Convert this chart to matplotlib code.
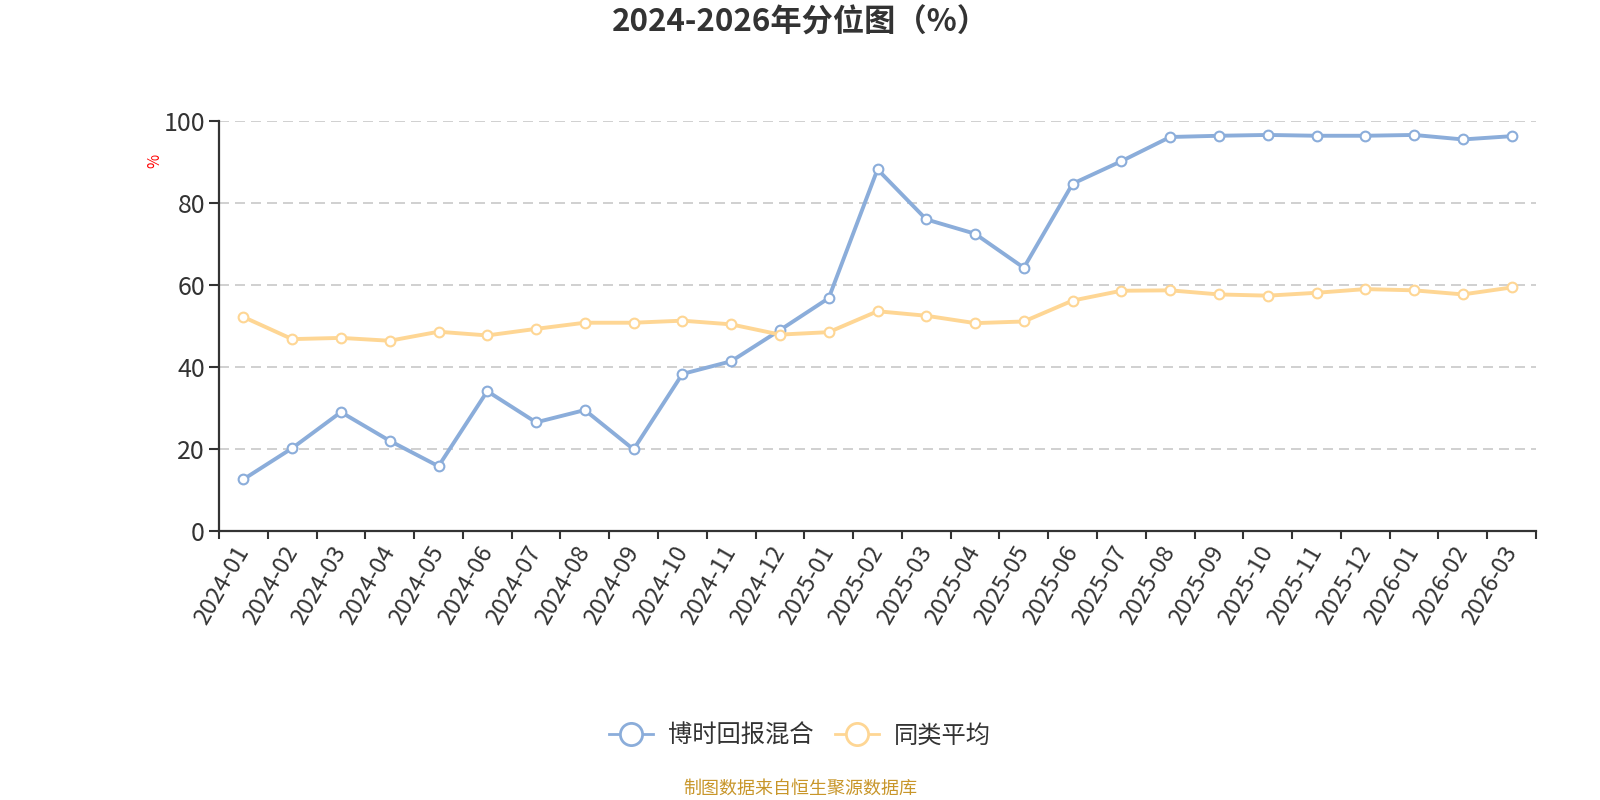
import matplotlib
matplotlib.use("Agg")
import matplotlib.pyplot as plt
from matplotlib.lines import Line2D
import numpy as np

plt.rcParams['font.family'] = ['Noto Sans CJK SC', 'DejaVu Sans']

months = ["2024-01", "2024-02", "2024-03", "2024-04", "2024-05", "2024-06",
          "2024-07", "2024-08", "2024-09", "2024-10", "2024-11", "2024-12",
          "2025-01", "2025-02", "2025-03", "2025-04", "2025-05", "2025-06",
          "2025-07", "2025-08", "2025-09", "2025-10", "2025-11", "2025-12",
          "2026-01", "2026-02", "2026-03"]
fund = [12.6, 20.2, 29.0, 22.0, 15.8, 34.1, 26.5, 29.5, 19.9, 38.3, 41.4, 49.0,
        56.8, 88.2, 76.0, 72.5, 64.2, 84.7, 90.2, 96.1, 96.4, 96.6, 96.4, 96.4,
        96.6, 95.5, 96.3]
peer = [52.2, 46.8, 47.1, 46.4, 48.6, 47.7, 49.3, 50.8, 50.8, 51.3, 50.4, 47.9,
        48.5, 53.6, 52.5, 50.7, 51.1, 56.2, 58.6, 58.7, 57.7, 57.4, 58.1, 59.0,
        58.7, 57.7, 59.4]
series_names = ["博时回报混合", "同类平均"]
yticks = [0, 20, 40, 60, 80, 100]

blue = "#8badda"
orange = "#fed694"
text_c = "#333333"

fig = plt.figure(figsize=(16, 8), dpi=100)
ax = fig.add_axes([219/1600, 1 - 531/800, (1536-219)/1600, (531-121)/800])

x = np.arange(len(months))
for vals, col in ((fund, blue), (peer, orange)):
    ax.plot(x, vals, color=col, lw=2.8, marker='o', markersize=7,
            markerfacecolor='white', markeredgecolor=col, markeredgewidth=1.5,
            zorder=3, solid_joinstyle='round')

ax.set_xlim(-0.5, len(months) - 0.5)
ax.set_ylim(0, 100)
ax.set_yticks(yticks)
ax.set_yticklabels([str(v) for v in yticks], fontsize=18, color=text_c)
for v in yticks[1:]:
    ax.axhline(v, color="#c8c8c8", lw=1.2, ls=(0, (6, 3.6)), zorder=1)

ax.set_xticks(np.arange(-0.5, len(months)), minor=False)
ax.set_xticklabels([])
ax.set_xticks(x, minor=True)
ax.set_xticklabels(months, minor=True, rotation=60, ha='right', va='center',
                   rotation_mode='anchor', fontsize=17, color=text_c)
ax.tick_params(axis='x', which='minor', length=0, pad=12)
ax.tick_params(axis='x', which='major', length=6, width=1.5, color=text_c)
ax.tick_params(axis='y', length=7, width=1.5, color=text_c, pad=3)

for s in ('top', 'right'):
    ax.spines[s].set_visible(False)
for s in ('left', 'bottom'):
    ax.spines[s].set_color(text_c)
    ax.spines[s].set_linewidth(1.6)

fig.text(155/1600, 1 - 161/800, "%", color="red", fontsize=11, rotation=90,
         ha='center', va='center')

fig.text(0.5, 1 - 23/800, "2024-2026年分位图（%）", fontsize=22.5,
         fontweight='bold', color=text_c, ha='center', va='center')

handles = [Line2D([], [], color=c, lw=2, marker='o', markersize=16,
                  markerfacecolor='white', markeredgecolor=c, markeredgewidth=2)
           for c in (blue, orange)]
leg = fig.legend(handles, series_names, loc='center', bbox_to_anchor=(0.5, 1 - 736/800),
                 ncol=2, frameon=False, fontsize=17.5, handlelength=1.8,
                 columnspacing=0.9, handletextpad=0.6)
for t in leg.get_texts():
    t.set_color(text_c)

fig.text(0.5, 1 - 789/800, "制图数据来自恒生聚源数据库", fontsize=13,
         color="#c8962a", ha='center', va='center')

fig.savefig("out.png", dpi=100, facecolor='white')
